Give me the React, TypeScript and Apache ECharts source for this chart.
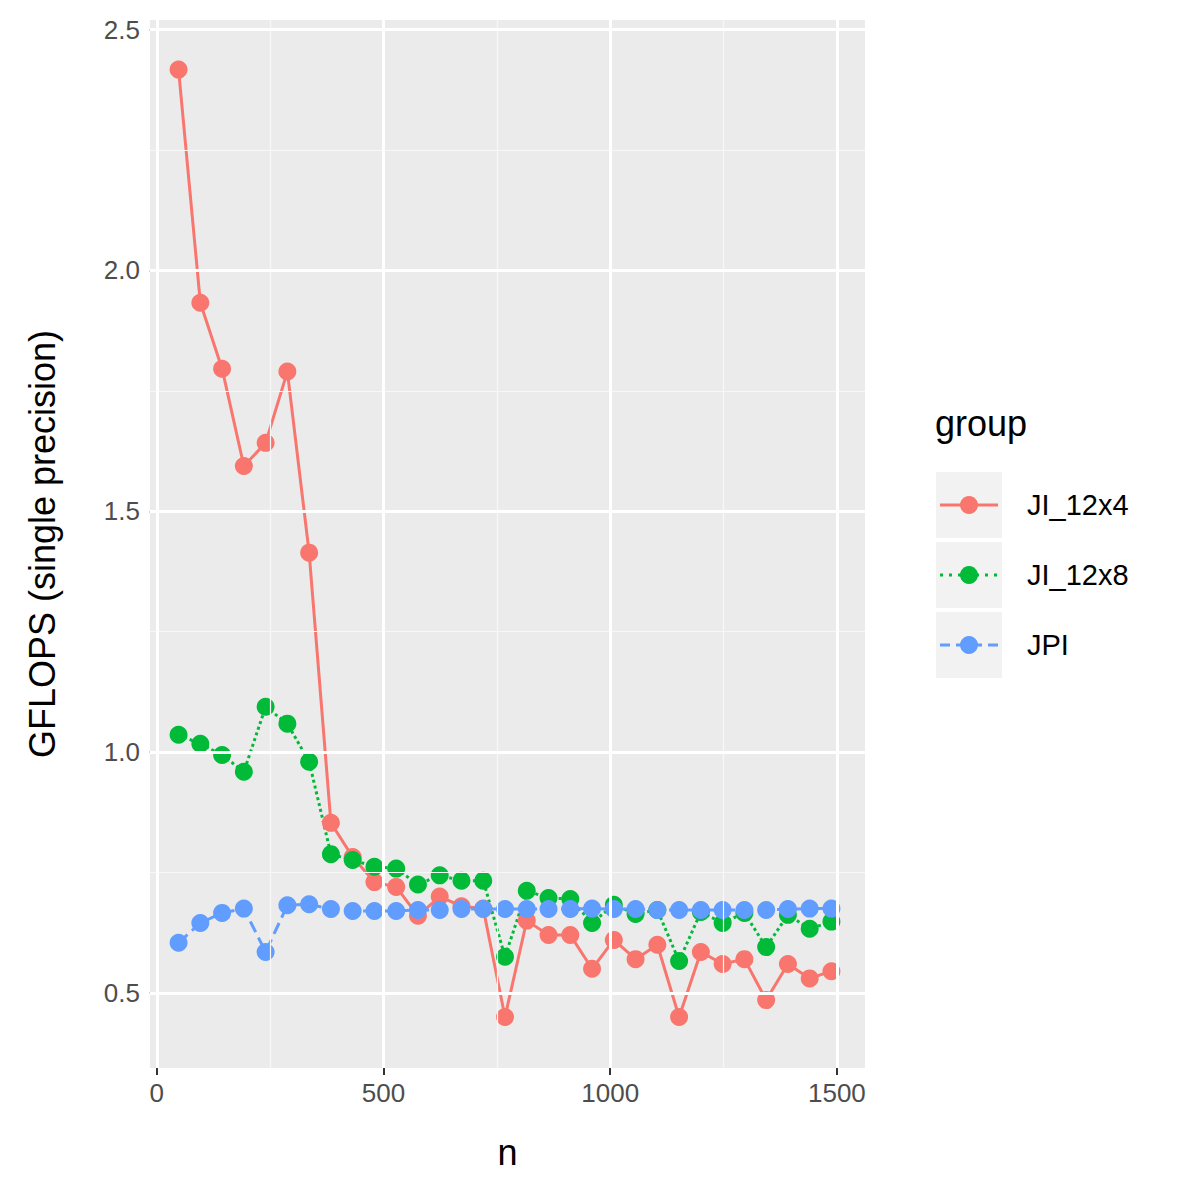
import React, { useEffect, useRef } from 'react';
import * as echarts from 'echarts';

const nValues = Array.from({ length: 31 }, (_, i) => 48 * (i + 1));
const jl12x4 = [2.417, 1.933, 1.796, 1.594, 1.642, 1.79, 1.414, 0.853, 0.782, 0.73, 0.72, 0.66, 0.7, 0.68, 0.675, 0.45, 0.65, 0.62, 0.62, 0.55, 0.61, 0.57, 0.6, 0.45, 0.585, 0.56, 0.57, 0.485, 0.56, 0.53, 0.545];
const jl12x8 = [1.036, 1.017, 0.994, 0.959, 1.094, 1.059, 0.98, 0.788, 0.776, 0.762, 0.758, 0.725, 0.744, 0.733, 0.733, 0.575, 0.712, 0.697, 0.695, 0.645, 0.683, 0.664, 0.672, 0.566, 0.668, 0.645, 0.666, 0.595, 0.662, 0.633, 0.648];
const jpi = [0.604, 0.645, 0.666, 0.675, 0.585, 0.682, 0.684, 0.674, 0.67, 0.67, 0.67, 0.672, 0.672, 0.674, 0.674, 0.674, 0.674, 0.674, 0.674, 0.675, 0.674, 0.674, 0.672, 0.672, 0.672, 0.672, 0.672, 0.672, 0.674, 0.675, 0.675];
const xTicks = [0, 500, 1000, 1500];
const xMinor = [250, 750, 1250];
const yTicks = [0.5, 1, 1.5, 2, 2.5];
const yMinor = [0.75, 1.25, 1.75, 2.25];
const groups = [
  { name: 'JI_12x4', color: '#F8766D', dash: 'solid', data: jl12x4 },
  { name: 'JI_12x8', color: '#00BA38', dash: 'dotted', data: jl12x8 },
  { name: 'JPI', color: '#619CFF', dash: 'dashed', data: jpi },
];

const font = 'Liberation Sans, Arial, sans-serif';

const App: React.FC = () => {
  const ref = useRef<HTMLDivElement>(null);
  useEffect(() => {
    if (!ref.current) return undefined;
    const chart = echarts.init(ref.current, undefined, { renderer: 'svg' });
    const gridLines = (xs: number[], ys: number[], width: number, color: string) => ({
      type: 'line',
      data: [],
      z: 1,
      silent: true,
      markLine: {
        silent: true,
        symbol: 'none',
        animation: false,
        label: { show: false },
        lineStyle: { color, width, type: 'solid' },
        data: [...xs.map((v) => ({ xAxis: v })), ...ys.map((v) => ({ yAxis: v }))],
      },
    });
    const legendGraphics: any[] = [
      { type: 'text', left: 935, top: 405, style: { text: 'group', font: `36px ${font}`, fill: '#000' } },
    ];
    groups.forEach((g, i) => {
      const top = 472 + i * 70;
      legendGraphics.push(
        { type: 'rect', shape: { x: 936, y: top, width: 66, height: 66 }, style: { fill: '#F2F2F2' } },
        {
          type: 'line',
          shape: { x1: 940, y1: top + 33, x2: 998, y2: top + 33 },
          style: { stroke: g.color, lineWidth: 3, lineDash: g.dash === 'solid' ? null : g.dash === 'dotted' ? [3, 6] : [10, 6] },
        },
        { type: 'circle', shape: { cx: 969, cy: top + 33, r: 9 }, style: { fill: g.color } },
        { type: 'text', left: 1027, top: top + 18, style: { text: g.name, font: `29px ${font}`, fill: '#000' } },
      );
    });
    chart.setOption({
      animation: false,
      textStyle: { fontFamily: font },
      grid: { left: 150, right: 335, top: 20, bottom: 132, show: true, backgroundColor: '#EBEBEB', borderWidth: 0 },
      xAxis: {
        type: 'value',
        min: -15,
        max: 1562,
        splitLine: { show: false },
        axisLine: { show: false },
        axisTick: { show: true, customValues: xTicks, length: 7, lineStyle: { color: '#333', width: 2 } },
        axisLabel: { customValues: xTicks, fontSize: 26, color: '#4D4D4D', margin: 12, formatter: (v: number) => String(v) },
        name: 'n',
        nameLocation: 'middle',
        nameGap: 66,
        nameTextStyle: { fontSize: 36, color: '#000' },
      },
      yAxis: {
        type: 'value',
        min: 0.344,
        max: 2.52,
        splitLine: { show: false },
        axisLine: { show: false },
        axisTick: { show: true, customValues: yTicks, length: 7, lineStyle: { color: '#333', width: 2 } },
        axisLabel: { customValues: yTicks, fontSize: 26, color: '#4D4D4D', margin: 10, formatter: (v: number) => v.toFixed(1) },
        name: 'GFLOPS (single precision)',
        nameLocation: 'middle',
        nameGap: 90,
        nameTextStyle: { fontSize: 36, color: '#000' },
      },
      series: [
        gridLines(xMinor, yMinor, 1.2, '#F7F7F7'),
        gridLines(xTicks, yTicks, 3, '#FFFFFF'),
        ...groups.map((g) => ({
          type: 'line',
          name: g.name,
          z: 3,
          data: nValues.map((n, i) => [n, g.data[i]]),
          symbol: 'circle',
          symbolSize: 18,
          itemStyle: { color: g.color },
          lineStyle: { color: g.color, width: 3, type: g.dash },
        })),
      ],
      graphic: legendGraphics,
    });
    return () => chart.dispose();
  }, []);
  return <div ref={ref} style={{ width: 1200, height: 1200, margin: -8 }} />;
};

export default App;
